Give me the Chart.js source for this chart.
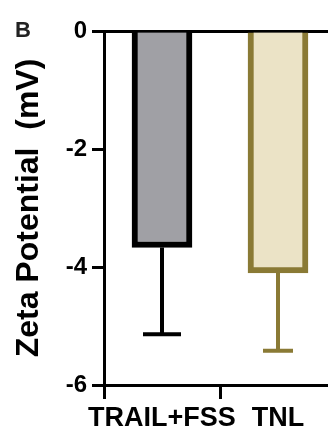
<!DOCTYPE html>
<html>
<head>
<meta charset="utf-8">
<script src="https://cdn.jsdelivr.net/npm/chart.js@4/dist/chart.umd.min.js"></script>
<style>
  html, body { margin: 0; padding: 0; background: #fff; overflow: hidden; width: 328px; height: 430px; }
  #wrap { position: relative; width: 338px; height: 430px; }
  #panel { position: absolute; left: 15px; top: 19px; font: bold 22px "Liberation Sans", Arial, sans-serif; line-height: 22px; color: #222; }
</style>
</head>
<body>
<div id="wrap">
  <canvas id="myChart" width="338" height="430"></canvas>
  <div id="panel">B</div>
</div>
<script>
const groups = ['TRAIL+FSS', 'TNL']
const zetaMean = [-3.67, -4.1]
const zetaSd = [1.47, 1.32]
const yTicks = [0, -2, -4, -6]

const fillColors = ['#a0a0a5', '#ebe3c6']
const edgeColors = ['#000000', '#8a7a35']
const capWidths = [38, 30]
const font = '"Liberation Sans", Arial, sans-serif'

// error bars drawn under the mean, GraphPad style
const errorBars = {
  id: 'errorBars',
  afterDatasetsDraw(chart) {
    const ctx = chart.ctx
    const y = chart.scales.y
    const meta = chart.getDatasetMeta(0)
    ctx.save()
    ctx.lineWidth = 4
    meta.data.forEach((bar, i) => {
      const from = y.getPixelForValue(zetaMean[i])
      const to = y.getPixelForValue(zetaMean[i] - zetaSd[i])
      ctx.strokeStyle = edgeColors[i]
      ctx.beginPath()
      ctx.moveTo(bar.x, from)
      ctx.lineTo(bar.x, to)
      ctx.moveTo(bar.x - capWidths[i] / 2, to)
      ctx.lineTo(bar.x + capWidths[i] / 2, to)
      ctx.stroke()
    })
    ctx.restore()
  }
}

const ctx = document.getElementById('myChart')
new Chart(ctx, {
  type: 'bar',
  data: {
    labels: groups,
    datasets: [{
      data: zetaMean,
      backgroundColor: fillColors,
      borderColor: edgeColors,
      borderWidth: 6,
      borderSkipped: 'start',
      barThickness: 60
    }]
  },
  options: {
    responsive: false,
    animation: false,
    layout: { padding: { top: 31, right: 2, left: 0, bottom: 0 } },
    plugins: { legend: { display: false }, tooltip: { enabled: false } },
    scales: {
      x: {
        afterFit: s => { s.height = 45 },
        grid: { drawOnChartArea: false, tickLength: 14, tickWidth: 3, tickColor: '#000' },
        border: { color: '#000', width: 3 },
        ticks: { color: '#000', padding: 3, autoSkip: false, maxRotation: 0, font: { family: font, size: 27, weight: 'bold' } }
      },
      y: {
        min: -6,
        max: 0,
        afterFit: s => { s.width = 104 },
        afterBuildTicks: s => { s.ticks = yTicks.map(v => ({ value: v })) },
        grid: {
          color: c => (c.tick && c.tick.value === 0 ? '#000' : 'rgba(0,0,0,0)'),
          lineWidth: 3,
          tickLength: 12,
          tickWidth: 3,
          tickColor: '#000'
        },
        border: { color: '#000', width: 3 },
        ticks: { color: '#000', padding: 5, font: { family: font, size: 24, weight: 'bold' } },
        title: {
          display: true,
          text: 'Zeta Potential  (mV)',
          color: '#000',
          padding: { top: 10, bottom: 0 },
          font: { family: font, size: 32, weight: 'bold' }
        }
      }
    }
  },
  plugins: [errorBars]
})
</script>
</body>
</html>
